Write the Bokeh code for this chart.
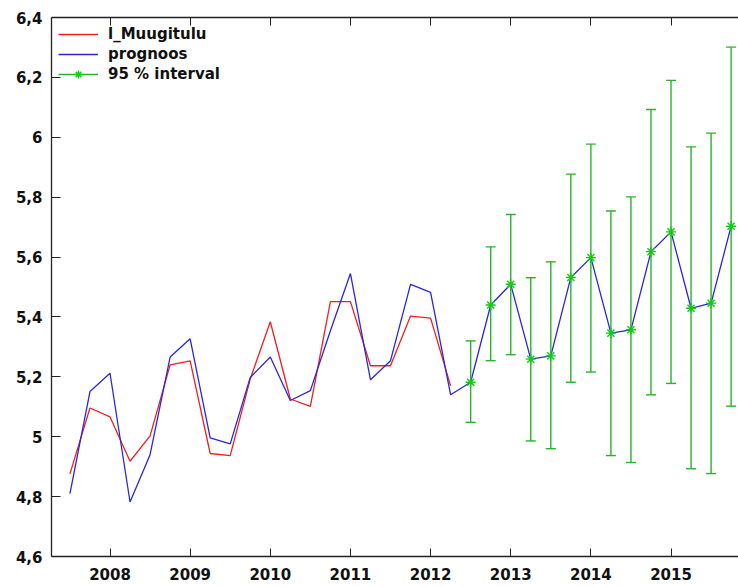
from bokeh.plotting import figure
from bokeh.models import (Range1d, LinearAxis, FixedTicker, Legend, LegendItem,
                          ColumnDataSource)
from bokeh.embed import file_html
from bokeh.resources import INLINE

# ---- data ----
actual_periods = ["2007Q3", "2007Q4", "2008Q1", "2008Q2", "2008Q3", "2008Q4",
                  "2009Q1", "2009Q2", "2009Q3", "2009Q4", "2010Q1", "2010Q2",
                  "2010Q3", "2010Q4", "2011Q1", "2011Q2", "2011Q3", "2011Q4",
                  "2012Q1", "2012Q2"]
l_muugitulu = [4.876, 5.096, 5.066, 4.918, 5.003, 5.240, 5.253, 4.944, 4.937,
               5.193, 5.384, 5.126, 5.101, 5.451, 5.451, 5.237, 5.237, 5.403,
               5.396, 5.170]

prognoos_periods = actual_periods + ["2012Q3", "2012Q4", "2013Q1", "2013Q2",
                                     "2013Q3", "2013Q4", "2014Q1", "2014Q2",
                                     "2014Q3", "2014Q4", "2015Q1", "2015Q2",
                                     "2015Q3", "2015Q4"]
prognoos = [4.810, 5.151, 5.212, 4.782, 4.940, 5.266, 5.327, 4.996, 4.976,
            5.198, 5.266, 5.121, 5.154, 5.354, 5.545, 5.190, 5.254, 5.509,
            5.482, 5.140, 5.182, 5.440, 5.509, 5.259, 5.270, 5.532, 5.598,
            5.346, 5.357, 5.618, 5.684, 5.429, 5.446, 5.703]

interval_periods = prognoos_periods[20:]
interval_center = prognoos[20:]
interval_lower = [5.048, 5.254, 5.274, 4.986, 4.960, 5.182, 5.216, 4.937,
                  4.914, 5.140, 5.178, 4.893, 4.877, 5.102]
interval_upper = [5.320, 5.634, 5.742, 5.531, 5.584, 5.877, 5.977, 5.754,
                  5.801, 6.093, 6.190, 5.968, 6.014, 6.301]

x_ticks = [2008, 2009, 2010, 2011, 2012, 2013, 2014, 2015]
x_tick_labels = ["2008", "2009", "2010", "2011", "2012", "2013", "2014", "2015"]
y_ticks = [4.6, 4.8, 5.0, 5.2, 5.4, 5.6, 5.8, 6.0, 6.2, 6.4]
y_tick_labels = ["4,6", "4,8", "5", "5,2", "5,4", "5,6", "5,8", "6", "6,2", "6,4"]


def to_time(period):
    year, q = period.split("Q")
    return int(year) + (int(q) - 1) / 4.0


actual_t = [to_time(p) for p in actual_periods]
prognoos_t = [to_time(p) for p in prognoos_periods]
interval_t = [to_time(p) for p in interval_periods]

RED = "#ee2020"
BLUE = "#2828d8"
GREEN = "#28b428"
GREEN_MARK = "#10cc10"
FONT = "DejaVu Sans"

p = figure(width=738, height=587, output_backend="svg", toolbar_location=None,
           x_range=Range1d(2007.27, 2015.842), y_range=Range1d(4.6, 6.4),
           min_border_left=51, min_border_right=0, min_border_top=17,
           min_border_bottom=31, x_axis_location="below")
p.outline_line_color = None
p.xgrid.visible = False
p.ygrid.visible = False
p.background_fill_color = "white"
p.border_fill_color = "white"

# axes
for ax in p.xaxis:
    ax.ticker = FixedTicker(ticks=x_ticks)
    ax.major_label_overrides = dict(zip(x_ticks, x_tick_labels))
    ax.major_tick_in = 8
    ax.major_tick_out = 0
    ax.minor_tick_in = 0
    ax.minor_tick_out = 0
    ax.major_label_standoff = 11
    ax.major_label_text_font = FONT
    ax.major_label_text_font_style = "bold"
    ax.major_label_text_font_size = "15px"
    ax.major_label_text_color = "#111111"
    ax.axis_line_color = "#222222"
    ax.axis_line_width = 1.3
    ax.major_tick_line_color = "#222222"

for ax in p.yaxis:
    ax.ticker = FixedTicker(ticks=y_ticks)
    ax.major_label_overrides = dict(zip(y_ticks, y_tick_labels))
    ax.major_tick_in = 9
    ax.major_tick_out = 0
    ax.minor_tick_in = 0
    ax.minor_tick_out = 0
    ax.major_label_standoff = 9
    ax.major_label_text_font = FONT
    ax.major_label_text_font_style = "bold"
    ax.major_label_text_font_size = "15px"
    ax.major_label_text_color = "#111111"
    ax.axis_line_color = "#222222"
    ax.axis_line_width = 1.3
    ax.major_tick_line_color = "#222222"

# mirrored ticks along the top edge, without labels
top = LinearAxis(ticker=FixedTicker(ticks=x_ticks), major_tick_in=8,
                 major_tick_out=0, minor_tick_in=0, minor_tick_out=0,
                 major_label_overrides={t: "" for t in x_ticks},
                 major_label_standoff=0,
                 axis_line_color="#222222", axis_line_width=1.3,
                 major_tick_line_color="#222222")
p.add_layout(top, "above")

# series
r_act = p.line(actual_t, l_muugitulu, line_color=RED, line_width=1.3)
r_prog = p.line(prognoos_t, prognoos, line_color=BLUE, line_width=1.3)

src = ColumnDataSource(dict(t=interval_t, lo=interval_lower, hi=interval_upper,
                            c=interval_center))
r_seg = p.segment(x0="t", y0="lo", x1="t", y1="hi", source=src,
                  line_color=GREEN, line_width=1.4)
p.scatter(x="t", y="lo", source=src, marker="dash", size=10,
          line_color=GREEN, line_width=1.4)
p.scatter(x="t", y="hi", source=src, marker="dash", size=10,
          line_color=GREEN, line_width=1.4)
r_star = p.scatter(x="t", y="c", source=src, marker="asterisk", size=10,
                   line_color=GREEN_MARK, line_width=1.4)

legend = Legend(items=[
    LegendItem(label="l_Muugitulu", renderers=[r_act]),
    LegendItem(label="prognoos", renderers=[r_prog]),
    LegendItem(label="95 % interval", renderers=[r_seg, r_star]),
], location="top_left", margin=7, padding=0, spacing=0, glyph_width=40,
    glyph_height=20, label_height=20, label_standoff=10,
    label_text_font=FONT, label_text_font_style="bold",
    label_text_font_size="15px", label_text_color="#111111",
    border_line_color=None, background_fill_alpha=0)
p.add_layout(legend)

open("out.html", "w").write(file_html(p, INLINE))
